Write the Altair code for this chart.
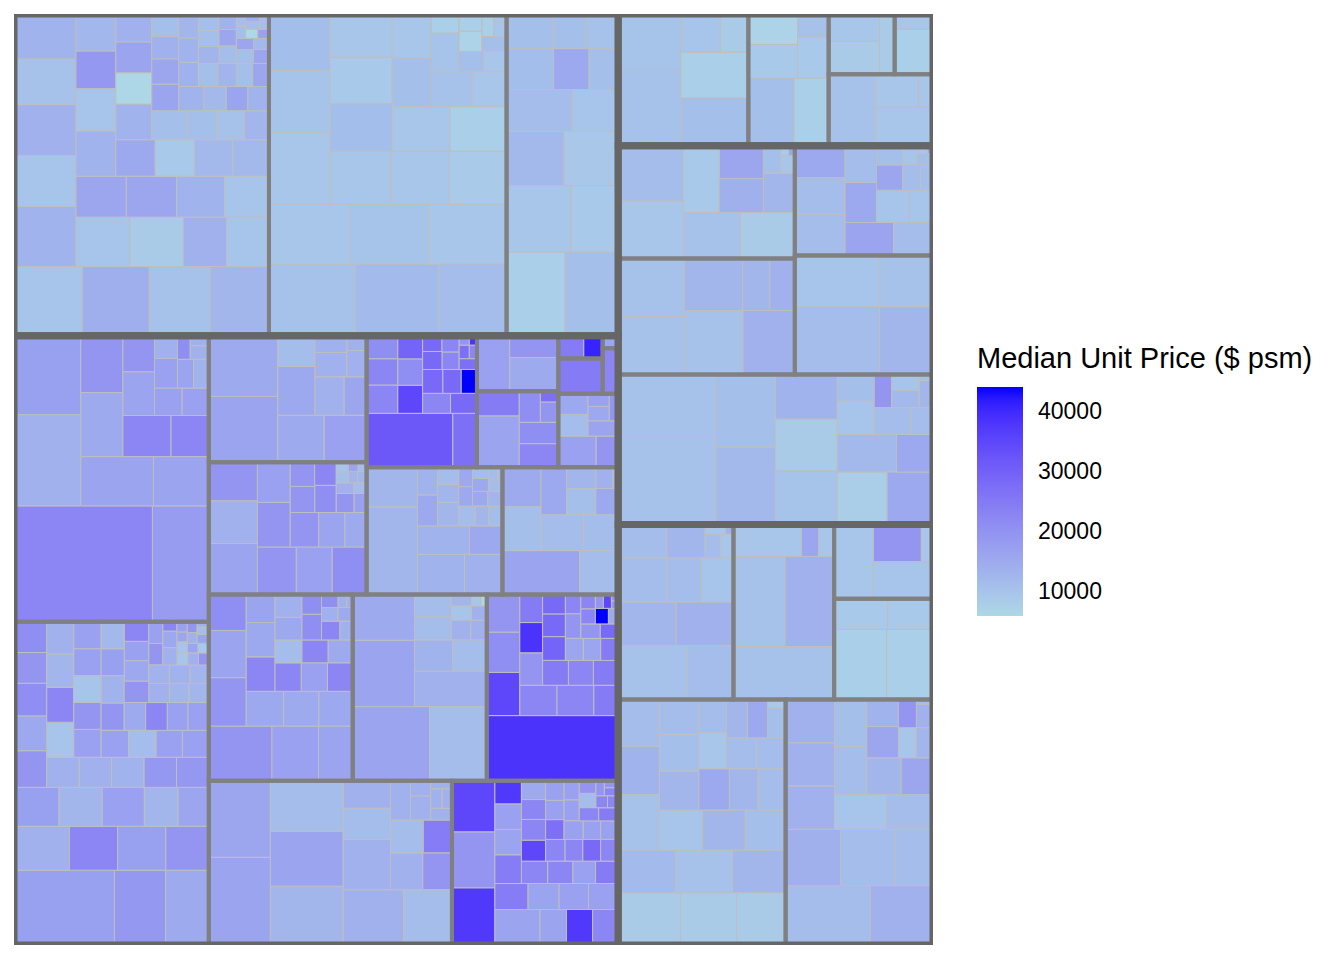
import altair as alt
import pandas as pd

# ---------------- data (leaf sizes and median unit prices) -------------
A1_size = [4490, 4420, 4030, 3560, 3850, 3000, 3000, 2550, 2700, 2650, 2500, 1960, 1960, 2040, 2000, 1880,
           1720, 1720, 1600, 1370, 1330, 1360, 1430, 1220, 1400, 1260, 1070, 960, 1050, 960, 840, 750,
           680, 650, 680, 520, 576, 576, 576, 500, 456, 432, 456, 408, 450, 486, 288,
           360, 360, 330, 320, 320, 270, 255, 225, 204, 187, 160, 108, 108, 108, 99, 99, 99, 72, 66]
A1_price = [10000, 14200, 10400, 13400, 12800, 10000, 13900, 10000, 10400, 13400, 8500, 16000, 16000, 13900, 10000, 13400,
            10000, 13400, 10000, 15500, 12300, 9000, 19000, 13400, 12500, 12300, 6200, 13900, 16500, 11000, 11000, 10400,
            12800, 16000, 16500, 12300, 13900, 11000, 13400, 16500, 13900, 11000, 13400, 13000, 12800, 13400, 11500,
            11000, 16000, 13000, 11000, 11000, 16000, 13400, 11000, 16000, 16000, 12300, 11000, 11000, 6000, 17000, 11000, 13400, 11000, 11000]
A2_size = [5930, 5660, 4420, 4620, 4620, 4470, 4160, 3600, 3300, 2900, 3070, 2960, 2760, 2800, 2550,
           2440, 2390, 1640, 1800, 1360, 1140, 1020, 475, 440, 450, 500, 375, 345, 250, 180, 100]
A2_price = [10700, 12000, 9700, 11500, 9700, 10200, 9700, 10200, 11300, 8600, 9700, 9700, 9000, 11300, 9700,
            9700, 7800, 9700, 11000, 10500, 9700, 10200, 11000, 7000, 9700, 7800, 7800, 11000, 7800, 9700, 9700]
A3_size = [4590, 4180, 4030, 2930, 2920, 2760, 2580, 1800, 1800, 1530, 1360, 1120, 1050, 1050]
A3_price = [7800, 11000, 9700, 9000, 12300, 9500, 11500, 10000, 11300, 11000, 15500, 11000, 11000, 10400]

B1_size = [15255, 6215, 5785, 5005, 3400, 2590, 2565, 2280, 1880, 1476, 1312, 1080, 720, 648, 696, 493, 440, 418, 285, 240, 176]
B1_price = [22500, 18000, 13900, 17300, 16500, 16500, 15000, 19500, 22500, 22500, 16500, 19500, 17000, 17000, 17000, 13900, 16500, 13400, 21000, 13900, 13900]
B2_size = [7150, 3650, 3070, 2320, 2020, 2020, 1800, 1670, 1600, 1560, 1250, 1140,
           1140, 960, 930, 930, 900, 1020, 1080, 930, 930, 900, 957, 924, 858, 825, 726,
           700, 700, 676, 700, 600, 700, 570, 675, 550, 700, 550, 700, 570,
           456, 480, 456, 600, 330, 375, 590, 590, 500, 360, 360, 290, 360, 360, 290,
           100, 110, 125, 100, 100, 125, 100, 100, 60, 117, 100, 120, 100, 220, 230, 80]
B2_price = [17300, 18800, 15000, 13900, 22500, 17300, 19500, 17300, 12800, 17000, 12800, 16000,
            19500, 19500, 13900, 13900, 10000, 21000, 15500, 13400, 18800, 22500, 21000, 18800, 12800, 13900, 17000,
            19500, 10000, 17000, 17000, 19500, 17000, 15000, 17000, 17000, 17000, 17000, 11500, 22500,
            17000, 15500, 22500, 13400, 12800, 13900, 17300, 12300, 19500, 12800, 12800, 19500, 13400, 13400, 17000,
            16000, 10000, 22500, 17000, 16000, 9700, 9000, 13900, 13900, 19500, 19500, 13900, 16500, 15500, 13900, 11500]
B3_size = [4220, 3890, 2020, 1680, 1850, 1040, 1060, 800, 720, 480, 500, 270]
B3_price = [16500, 15000, 15000, 15500, 17000, 13900, 11500, 16000, 13900, 13900, 13900, 13900]
B4_size = [2300, 1930, 1740, 1716, 1584, 1364, 1518, 1221, 912, 840, 693, 546, 594, 550, 462, 315, 221, 170, 110, 130, 100, 120, 96, 84, 72]
B4_price = [16500, 13900, 19500, 19500, 17000, 19500, 21000, 17000, 19500, 16500, 15000, 21000, 19500, 19500, 22500, 19500, 17000, 13900, 10000, 11500, 12800, 11000, 12800, 16500, 11500]
B5_size = [4264, 1196, 812, 754, 660, 640, 600, 528, 486, 513, 405, 440, 345, 276, 320, 280, 256, 128, 96, 176, 88, 66]
B5_price = [32000, 27000, 22500, 22500, 21000, 35000, 21000, 29500, 28500, 22500, 28500, 28500, 44170, 22500, 28500, 28500, 22500, 27000, 22500, 27000, 19500, 38500]
B6a_size = [1580, 1426, 920]
B6a_price = [17000, 15000, 19500]
B6b_size = [1920, 920, 814, 740, 580, 323, 170]
B6b_price = [16500, 24800, 22500, 21000, 21000, 19500, 27000]
B6c_size = [1240]
B6c_price = [24800]
B6d_size = [437, 323]
B6d_price = [24800, 41000]
B6e_size = [504]
B6e_price = [22500]
B6f_size = [96]
B6f_price = [16000]
B6g_size = [1020, 560, 527, 594, 400, 266, 230, 209]
B6g_price = [17000, 11500, 15500, 19500, 16500, 15500, 17000, 19500]
B7_size = [4116, 1862, 1748, 1368, 1404, 864, 580, 520, 460, 340, 300, 342, 247, 247, 209, 250, 250, 150, 110, 200, 190, 165, 55]
B7_price = [12800, 12800, 13400, 13400, 13900, 15500, 15500, 13400, 12800, 11500, 11500, 12800, 15500, 15500, 15500, 12800, 11500, 11500, 11500, 12800, 15500, 11500, 11500]
B8_size = [3108, 1554, 1554, 1406, 1394, 1122, 1150, 702, 572, 540, 340, 100]
B8_price = [16500, 11500, 11000, 15000, 11500, 15500, 11500, 11000, 12800, 15500, 13900, 12800]
B9_size = [3233, 2385, 1750, 1656, 1692, 1260, 1216, 1152, 928, 1100, 928, 754, 700, 700, 672, 575, 575, 560, 525, 575, 324, 470, 190, 110, 70, 225, 210, 360, 200]
B9_price = [19500, 17000, 16500, 16500, 19500, 21000, 15500, 15000, 22500, 15500, 15500, 16500, 22500, 17000, 22500, 11500, 15500, 22500, 15000, 13900, 22500, 21000, 15000, 13900, 13900, 13900, 13900, 21000, 21000]
B10_size = [5325, 3834, 3960, 2640, 2400, 1120, 990, 780, 783, 270, 357, 294, 200, 216, 100, 63]
B10_price = [16500, 16500, 11500, 15000, 13900, 13400, 11500, 11500, 11500, 10000, 13900, 13900, 13900, 12800, 9700, 6000]
B11_size = [8000, 1333, 1240, 1054, 1160, 1044, 580, 690, 690, 644, 598, 575, 506, 598, 483, 414, 360, 360, 280, 352, 368, 208, 192, 144, 240, 256, 48, 195, 104, 104, 40]
B11_price = [38500, 35000, 21000, 22500, 19500, 22500, 22500, 24800, 19500, 38500, 24800, 24800, 29500, 24800, 28500, 28500, 16000, 24800, 22500, 19500, 16000, 22500, 44170, 15000, 28500, 19500, 19500, 22500, 19500, 35000, 19500]
B12_size = [5100, 4440, 4047, 3763, 3479, 3162, 2244, 2516, 1406, 1221, 1122, 1015, 1015, 888, 740, 290, 460, 208, 234, 160, 180]
B12_price = [16500, 16000, 12800, 16500, 11500, 13900, 13900, 11500, 11500, 13900, 13900, 19500, 11500, 24500, 13900, 13900, 13900, 13900, 13900, 13900, 13900]
B13_size = [2300, 2250, 2050, 1500, 870, 806, 713, 850, 880, 720, 750, 630, 720, 576, 552, 528, 630, 475, 475, 475, 425, 450, 468, 396,
            304, 336, 336, 304, 361, 361, 300, 340, 357, 270, 330, 225, 240, 240, 130, 120, 195, 105, 90, 117]
B13_price = [37500, 19500, 35000, 16500, 37500, 24500, 24500, 22500, 16500, 17000, 16500, 16500, 17000, 37500, 22500, 22500, 17000, 17000, 24800, 35000, 15000, 22500, 22500, 22500,
             17000, 17000, 17000, 17000, 22500, 28500, 17000, 27000, 22500, 17000, 17000, 11500, 22500, 24800, 22500, 22500, 19500, 22500, 19500, 19500]

C1_size = [4200, 3250, 2925, 2800, 1370, 970]
C1_price = [10400, 10200, 11000, 7800, 10000, 8500]
C2_size = [2750, 2080, 1470, 1330, 1130, 640]
C2_price = [11000, 7800, 9000, 7000, 9000, 10700]
C3_size = [1410, 1175, 770]
C3_price = [8500, 9700, 8500]
C4_size = [1390, 476]
C4_price = [7800, 9700]
C5_size = [2950, 1925, 1230, 420]
C5_price = [10400, 9700, 9700, 9700]

D1_size = [3465, 3340, 2400, 2300, 1340, 2190, 1380, 1140, 440, 230, 72, 54]
D1_price = [9700, 11500, 10400, 8500, 16000, 9000, 14000, 12800, 11000, 9700, 8500, 16000]
D2_size = [1900, 1670, 1470, 1470, 1180, 1155, 1050, 975, 600, 696, 406, 460, 250, 290, 170, 77, 40]
D2_price = [11500, 11500, 15500, 16500, 11500, 15500, 11500, 10000, 16000, 10000, 11500, 11000, 10000, 11000, 11000, 9700, 16000]
D3_size = [3530, 3465, 3530, 2800, 3050, 1300, 1200]
D3_price = [10400, 10400, 10400, 12800, 13900, 12800, 13900]
D4_size = [5265, 3970, 3315, 2500]
D4_price = [11500, 10000, 12800, 10400]
D5_size = [8360, 5415, 4350, 4060, 3120, 3000, 2580, 2450, 2100, 2260, 1295, 1150, 925, 925, 550, 545, 450, 405, 350, 80]
D5_price = [10400, 10400, 12300, 11000, 10200, 8500, 13400, 8000, 12300, 15500, 15500, 10000, 11000, 11500, 11500, 19500, 12300, 10000, 12800, 11000]

E1_size = [3450, 2300, 2310, 2310, 1980, 1320, 1500, 1400, 1180, 330, 290, 180, 72]
E1_price = [10400, 13900, 11500, 12800, 11500, 10000, 11500, 11500, 12800, 11500, 9700, 9700, 13900]
E2_size = [4900, 4090, 4250, 2000, 500, 456]
E2_price = [10700, 13900, 10700, 9700, 16000, 9700]
E3_size = [2590, 1960, 1575, 385]
E3_price = [9700, 10000, 19500, 9700]
E4_size = [3320, 2920, 1480, 1250]
E4_price = [7800, 7800, 9000, 9000]
E5_size = [3050, 2750, 2400, 2145, 2310, 2255, 2145, 1870, 1800, 1600, 1630, 1520, 1370, 1440, 1280, 1120, 1180, 1060, 870, 930, 870, 840, 730, 744, 504, 144]
E5_price = [8500, 8500, 8500, 12800, 12000, 10700, 10700, 13400, 11500, 12800, 10000, 11000, 11000, 12800, 11500, 12800, 15500, 11500, 11500, 9700, 11500, 11500, 15500, 12800, 11000, 9000]
E6_size = [4700, 3480, 2915, 2860, 1980, 1970, 1970, 2020, 1680, 1420, 1500, 1450, 1190, 1100, 800, 924, 500, 475, 475, 360, 75]
E6_price = [11500, 13900, 14000, 11500, 13900, 13900, 13900, 11500, 10000, 11000, 11500, 11500, 12800, 16000, 13400, 16000, 9700, 12800, 19500, 13900, 11000]

hierarchy = [
    ("North-East", [("A1", A1_size, A1_price), ("A2", A2_size, A2_price), ("A3", A3_size, A3_price)]),
    ("Central", [("B1", B1_size, B1_price), ("B2", B2_size, B2_price), ("B3", B3_size, B3_price),
                 ("B4", B4_size, B4_price), ("B5", B5_size, B5_price), ("B6a", B6a_size, B6a_price),
                 ("B6b", B6b_size, B6b_price), ("B6c", B6c_size, B6c_price), ("B6d", B6d_size, B6d_price),
                 ("B6e", B6e_size, B6e_price), ("B6f", B6f_size, B6f_price), ("B6g", B6g_size, B6g_price),
                 ("B7", B7_size, B7_price), ("B8", B8_size, B8_price), ("B9", B9_size, B9_price),
                 ("B10", B10_size, B10_price), ("B11", B11_size, B11_price), ("B12", B12_size, B12_price),
                 ("B13", B13_size, B13_price)]),
    ("East", [("C1", C1_size, C1_price), ("C2", C2_size, C2_price), ("C3", C3_size, C3_price),
              ("C4", C4_size, C4_price), ("C5", C5_size, C5_price)]),
    ("North", [("D1", D1_size, D1_price), ("D2", D2_size, D2_price), ("D3", D3_size, D3_price),
               ("D4", D4_size, D4_price), ("D5", D5_size, D5_price)]),
    ("West", [("E1", E1_size, E1_price), ("E2", E2_size, E2_price), ("E3", E3_size, E3_price),
              ("E4", E4_size, E4_price), ("E5", E5_size, E5_price), ("E6", E6_size, E6_price)]),
]


# ---------------- squarified treemap layout (bottom-left start) ----------------
def worst(areas, length):
    s = sum(areas)
    return max(length * length * max(areas) / (s * s), s * s / (length * length * min(areas)))


def squarify(values, x, y, w, h):
    total = float(sum(values))
    order = sorted(range(len(values)), key=lambda i: -values[i])
    items = [(i, values[i] * w * h / total) for i in order]
    rects = [None] * len(values)
    k = 0
    while k < len(items):
        length = min(w, h)
        row = [items[k]]
        j = k + 1
        while j < len(items):
            if worst([a for _, a in row + [items[j]]], length) <= worst([a for _, a in row], length):
                row.append(items[j])
                j += 1
            else:
                break
        s = sum(a for _, a in row)
        if w >= h:
            cw = s / h
            yy = y
            for i, a in row:
                ch = a / cw
                rects[i] = (x, yy, x + cw, yy + ch)
                yy += ch
            x += cw
            w -= cw
        else:
            rh = s / w
            xx = x
            for i, a in row:
                rw = a / rh
                rects[i] = (xx, y, xx + rw, y + rh)
                xx += rw
            y += rh
            h -= rh
        k = j
    return rects


# the leaf sizes were read between the outlines; the outlines themselves also take area
def with_outline(total, k):
    return total + k * total ** 0.5 + (16 if k == 8 else 0)


leaf_rows, sub_rows, grp_rows = [], [], []
sub_w = [[with_outline(sum(sz), 8) for _, sz, _ in subs] for _, subs in hierarchy]
g_tot = [with_outline(sum(ws), 6) for ws in sub_w]
for (gname, subs), ws, gr in zip(hierarchy, sub_w, squarify(g_tot, 0.0, 0.0, 1.0, 1.0)):
    grp_rows.append(dict(name=gname, x0=gr[0], y0=gr[1], x1=gr[2], y1=gr[3]))
    for (sname, sz, pr), sr in zip(subs, squarify(ws, gr[0], gr[1], gr[2] - gr[0], gr[3] - gr[1])):
        sub_rows.append(dict(name=sname, x0=sr[0], y0=sr[1], x1=sr[2], y1=sr[3]))
        for (v, p), lr in zip(zip(sz, pr), squarify(sz, sr[0], sr[1], sr[2] - sr[0], sr[3] - sr[1])):
            leaf_rows.append(dict(sub=sname, price=p, x0=lr[0], y0=lr[1], x1=lr[2], y1=lr[3]))

leaves_df = pd.DataFrame(leaf_rows)
subs_df = pd.DataFrame(sub_rows)
grps_df = pd.DataFrame(grp_rows)

xs = alt.Scale(domain=[0, 1], nice=False, zero=False)
ys = alt.Scale(domain=[0, 1], nice=False, zero=False)
pmin, pmax = float(leaves_df.price.min()), float(leaves_df.price.max())

leaves = alt.Chart(leaves_df).mark_rect(stroke="#BEBEBE", strokeWidth=1, clip=True).encode(
    x=alt.X("x0:Q", scale=xs, axis=None),
    x2="x1:Q",
    y=alt.Y("y0:Q", scale=ys, axis=None),
    y2="y1:Q",
    color=alt.Color(
        "price:Q",
        scale=alt.Scale(domain=[pmin, pmax], range=["#ADD8E6", "#0000FF"], interpolate="lab"),
        legend=alt.Legend(
            title="Median Unit Price ($ psm)", orient="none", legendX=963, legendY=331,
            direction="vertical", gradientLength=229, gradientThickness=46, gradientStrokeWidth=0,
            titleFont="Liberation Sans", titleFontSize=29, titleFontWeight="normal", titleColor="black",
            titleLimit=600, titlePadding=13,
            labelFont="Liberation Sans", labelFontSize=23, labelColor="black", labelOffset=15,
            values=[10000, 20000, 30000, 40000], format="d",
        ),
    ),
)

subs = alt.Chart(subs_df).mark_rect(filled=False, stroke="#808080", strokeWidth=4, clip=True).encode(
    x=alt.X("x0:Q", scale=xs, axis=None), x2="x1:Q",
    y=alt.Y("y0:Q", scale=ys, axis=None), y2="y1:Q",
)

grps = alt.Chart(grps_df).mark_rect(filled=False, stroke="#666666", strokeWidth=7, clip=True).encode(
    x=alt.X("x0:Q", scale=xs, axis=None), x2="x1:Q",
    y=alt.Y("y0:Q", scale=ys, axis=None), y2="y1:Q",
)

chart = alt.layer(leaves, subs, grps).properties(
    width=919, height=931,
    padding={"left": 14, "top": 14, "right": 0, "bottom": 0},
    background="white",
).configure_view(strokeWidth=0)

chart.save("out.html", embed_options={"renderer": "svg", "actions": False})
